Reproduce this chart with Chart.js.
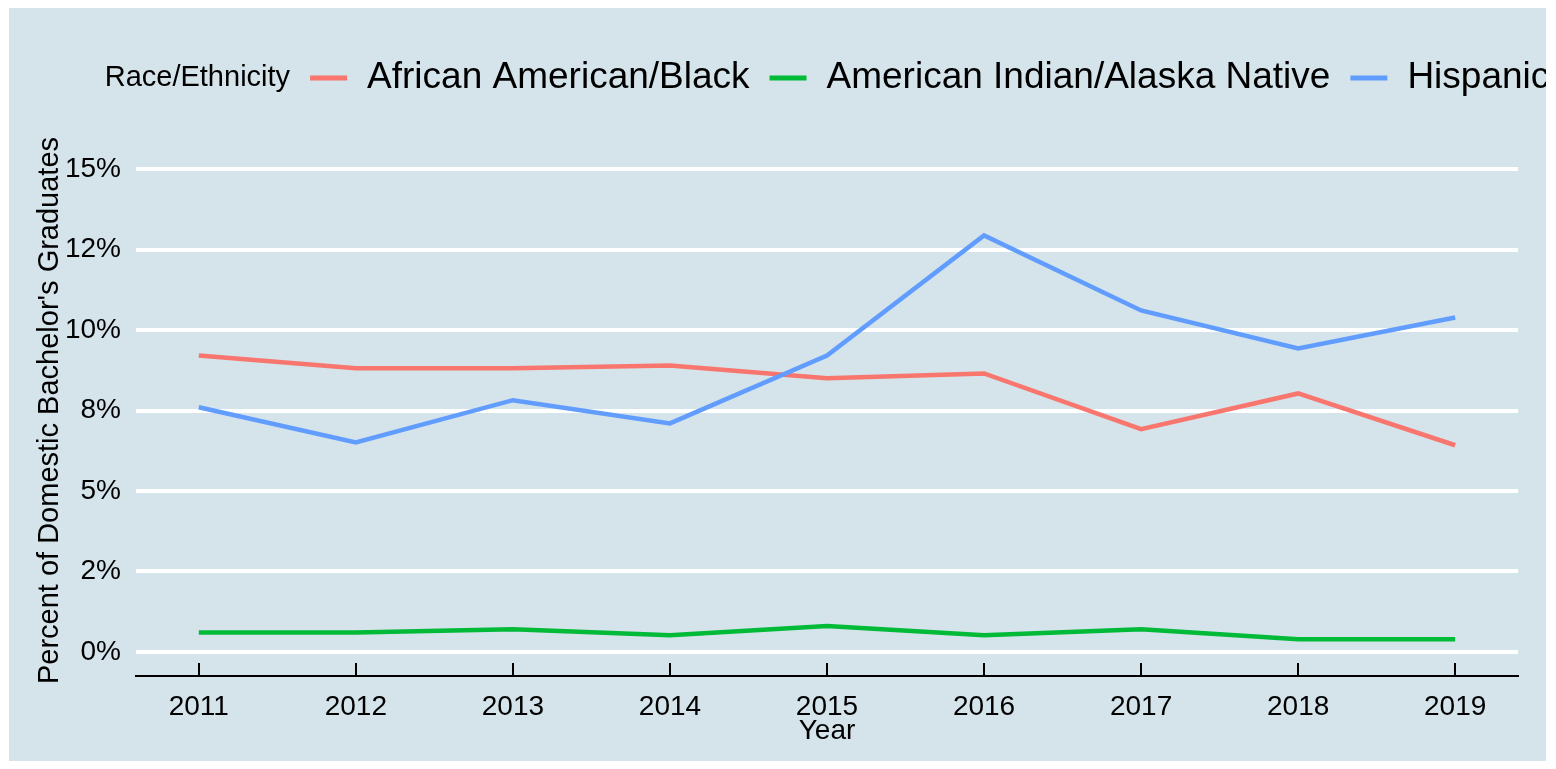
<!DOCTYPE html>
<html>
<head>
<meta charset="utf-8">
<title>Domestic Bachelor's Graduates by Race/Ethnicity</title>
<script src="https://cdn.jsdelivr.net/npm/chart.js@4.4.1/dist/chart.umd.min.js"></script>
<style>
  html, body { margin: 0; padding: 0; background: #ffffff; }
  canvas { display: block; }
</style>
</head>
<body>
<canvas id="chart" width="1556" height="769"></canvas>
<script>
// ---- data ----
const years = [2011, 2012, 2013, 2014, 2015, 2016, 2017, 2018, 2019];
const africanAmericanBlack = [9.21, 8.81, 8.81, 8.90, 8.50, 8.65, 6.92, 8.03, 6.42];
const americanIndianAlaskaNative = [0.60, 0.60, 0.70, 0.52, 0.80, 0.52, 0.70, 0.39, 0.39];
const hispanic = [7.60, 6.51, 7.82, 7.10, 9.21, 12.94, 10.61, 9.43, 10.39];

const seriesNames = ['African American/Black', 'American Indian/Alaska Native', 'Hispanic'];
const seriesColors = ['#F8766D', '#00BA38', '#619CFF'];

const yTickValues = [0, 2.5, 5, 7.5, 10, 12.5, 15];
const yTickLabels = ['0%', '2%', '5%', '8%', '10%', '12%', '15%'];

const legendTitle = 'Race/Ethnicity';
const xTitle = 'Year';
const yTitle = "Percent of Domestic Bachelor's Graduates";

// ---- styling ----
const FONT = '"Liberation Sans", Arial, Helvetica, sans-serif';
const PANEL_BG = '#d5e3ea';
const PANEL = { x: 9, y: 8, w: 1537, h: 753 };

// Light panel behind the whole plot, with a thin white margin around it.
const panelPlugin = {
  id: 'panelBackground',
  beforeDraw(chart) {
    const ctx = chart.ctx;
    ctx.save();
    ctx.fillStyle = '#ffffff';
    ctx.fillRect(0, 0, chart.width, chart.height);
    ctx.fillStyle = PANEL_BG;
    ctx.fillRect(PANEL.x, PANEL.y, PANEL.w, PANEL.h);
    ctx.restore();
  }
};

// Single-row legend with its title inline, centred on the plotting area
// and clipped at the panel edge.
const inlineLegendPlugin = {
  id: 'inlineLegend',
  afterDraw(chart) {
    const ctx = chart.ctx;
    const area = chart.chartArea;
    const datasets = chart.data.datasets;
    const titleFont = `29px ${FONT}`;
    const itemFont = `37px ${FONT}`;
    const gap = 20, keyLen = 37, y = 78;

    ctx.save();
    ctx.beginPath();
    ctx.rect(PANEL.x, PANEL.y, PANEL.w, PANEL.h);
    ctx.clip();

    ctx.font = titleFont;
    const titleW = ctx.measureText(legendTitle).width;
    ctx.font = itemFont;
    const widths = datasets.map(d => ctx.measureText(d.label).width);
    const total = titleW + widths.reduce((s, w) => s + gap + keyLen + gap + w, 0);

    let x = (area.left + area.right) / 2 - total / 2;
    ctx.textAlign = 'left';
    ctx.textBaseline = 'middle';
    ctx.fillStyle = '#000000';
    ctx.font = titleFont;
    ctx.fillText(legendTitle, x, y);
    x += titleW;

    datasets.forEach((d, i) => {
      x += gap;
      ctx.strokeStyle = d.borderColor;
      ctx.lineWidth = 5;
      ctx.lineCap = 'butt';
      ctx.beginPath();
      ctx.moveTo(x, y);
      ctx.lineTo(x + keyLen, y);
      ctx.stroke();
      x += keyLen + gap;
      ctx.font = itemFont;
      ctx.fillStyle = '#000000';
      ctx.fillText(d.label, x, y);
      x += widths[i];
    });
    ctx.restore();
  }
};

const seriesValues = [africanAmericanBlack, americanIndianAlaskaNative, hispanic];
const drawOrder = [3, 2, 1]; // Hispanic drawn last (on top)

const datasets = seriesNames.map((name, i) => ({
  label: name,
  data: years.map((yr, j) => ({ x: yr, y: seriesValues[i][j] })),
  borderColor: seriesColors[i],
  backgroundColor: seriesColors[i],
  borderWidth: 4.5,
  pointRadius: 0,
  pointHoverRadius: 0,
  fill: false,
  tension: 0,
  order: drawOrder[i]
}));

new Chart(document.getElementById('chart'), {
  type: 'line',
  data: { datasets },
  plugins: [panelPlugin, inlineLegendPlugin],
  options: {
    responsive: false,
    animation: false,
    devicePixelRatio: 1,
    layout: { padding: { left: 0, right: 38, top: 145, bottom: 0 } },
    plugins: {
      legend: { display: false },
      tooltip: { enabled: false }
    },
    scales: {
      x: {
        type: 'linear',
        min: 2010.6,
        max: 2019.4,
        afterBuildTicks: s => { s.ticks = years.map(v => ({ value: v })); },
        afterFit: s => { s.height = 93; },
        grid: { drawOnChartArea: false, drawTicks: true, tickLength: -13, color: '#000000', lineWidth: 2 },
        border: { display: true, color: '#000000', width: 2 },
        ticks: {
          color: '#000000',
          font: { family: FONT, size: 28 },
          padding: 27.8,
          maxRotation: 0,
          autoSkip: false,
          callback: v => String(v)
        },
        title: {
          display: true,
          text: xTitle,
          color: '#000000',
          font: { family: FONT, size: 28 },
          padding: { top: 0, bottom: 21 }
        }
      },
      y: {
        min: -0.75,
        max: 15.75,
        afterBuildTicks: s => { s.ticks = yTickValues.map(v => ({ value: v })); },
        afterFit: s => { s.width = 136; },
        grid: { color: '#ffffff', lineWidth: 4, drawTicks: false },
        border: { display: false },
        ticks: {
          color: '#000000',
          font: { family: FONT, size: 28 },
          padding: 15,
          callback: v => {
            const k = yTickValues.indexOf(v);
            return k >= 0 ? yTickLabels[k] : '';
          }
        },
        title: {
          display: true,
          text: yTitle,
          color: '#000000',
          font: { family: FONT, size: 29 },
          padding: { top: 33, bottom: 0 }
        }
      }
    }
  }
});
</script>
</body>
</html>
